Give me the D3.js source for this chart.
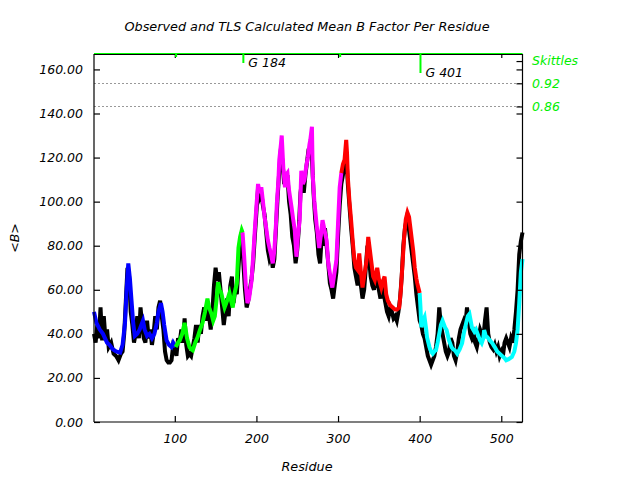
<!DOCTYPE html>
<html><head><meta charset="utf-8">
<script src="https://cdn.jsdelivr.net/npm/d3@7"></script>
<style>
html,body{margin:0;padding:0;background:#fff;}
text{font-family:"DejaVu Sans",sans-serif;font-style:italic;}
</style></head>
<body><svg id="c" width="640" height="480"></svg>
<script>
// ---- data ----
const title = "Observed and TLS Calculated Mean B Factor Per Residue";
const xLabel = "Residue";
const yLabel = "<B>";
const xTicks = [100, 200, 300, 400, 500];
const topTicks = [100, 300, 500];
const yTicks = [0, 20, 40, 60, 80, 100, 120, 140, 160];
const skittleHeader = {label: "Skittles", v: 163.8};
const skittleLevels = [{label: "0.92", v: 153.7}, {label: "0.86", v: 143.2}];
const glyMarks = [{res: 184, label: "G 184", len: 9}, {res: 401, label: "G 401", len: 19}];
const smallMarks = [101, 302];

const groupBounds = [1, 101, 183, 304, 400, 526];
const groupColors = ["#0000ff", "#00ff00", "#ff00ff", "#ff0000", "#00ffff"];

const obsRes = [1,3,5,7,9,11,13,15,17,19,22,25,28,31,34,36,38,40,42,44,46,48,50,52,54,56,58,60,62,64,66,68,70,72,74,76,78,80,82,84,86,88,90,92,94,96,98,100,102,104,106,108,110,112,114,116,118,120,122,124,126,128,130,132,134,136,138,140,142,144,146,148,150,152,154,156,158,160,162,164,166,168,170,172,174,176,178,180,182,184,186,188,190,192,194,196,198,200,202,204,206,208,210,212,214,216,218,220,222,224,226,228,230,232,234,236,238,240,242,244,246,248,250,252,254,256,258,260,262,264,266,268,270,272,274,276,278,280,282,284,286,288,290,292,294,296,298,300,302,304,306,308,310,312,314,316,318,320,322,324,326,328,330,332,334,336,338,340,342,344,346,348,350,352,354,356,358,360,362,364,366,368,370,372,374,376,378,380,382,384,386,388,390,392,394,396,398,400,402,404,406,408,410,412,414,416,418,420,422,424,426,428,430,432,434,436,438,440,442,444,446,448,450,452,454,456,458,460,462,464,466,468,470,472,474,476,478,480,482,484,486,488,490,492,494,496,498,500,502,504,506,508,510,512,514,516,518,520,522,524,526];
const obsVal = [40,36,44,38,52,37,48,38,42,34,36,31,30,28,31,32,40,55,70,66,50,44,36,40,48,38,52,44,38,36,46,38,42,35,40,48,42,52,55,48,42,32,28,27,27,28,35,34,30,38,36,42,36,47,35,30,31,30,34,38,44,36,44,40,48,52,46,52,48,42,50,62,70,64,68,60,52,44,50,56,48,62,66,54,60,58,70,82,86,72,60,52,55,60,65,72,84,95,106,102,104,98,94,86,78,74,76,70,74,88,102,114,124,118,108,110,112,100,94,84,80,72,78,88,104,110,104,112,118,124,122,120,104,92,86,76,72,84,80,88,80,72,63,60,56,62,68,84,98,108,112,116,122,108,98,88,80,70,66,62,72,62,56,60,70,80,74,66,62,60,66,64,60,56,62,58,54,50,48,52,50,47,48,46,50,56,66,80,88,92,90,84,78,72,66,58,52,46,44,40,38,34,30,28,26,28,30,34,40,52,44,40,36,32,30,32,38,36,30,28,32,38,42,44,46,44,52,46,40,38,40,36,34,38,42,40,38,46,52,40,36,34,33,35,32,34,30,32,30,36,38,36,34,38,36,42,50,60,76,82,86];

const tlsRes = [1,4,8,12,17,20,24,28,33,36,39,41,43,45,47,49,51,54,57,59,61,63,66,69,72,75,78,80,83,85,87,90,93,96,98,101,104,106,109,112,115,118,120,122,125,128,131,134,137,140,142,145,147,149,151,153,155,157,159,161,164,167,169,171,173,176,178,180,182,183,185,187,189,191,194,196,198,200,202,204,206,208,210,212,214,216,218,220,222,224,225,227,228,230,231,233,235,236,238,240,243,245,247,249,251,253,255,257,259,261,263,265,266,268,269,271,274,277,279,281,284,286,288,290,293,295,298,300,302,304,306,308,310,311,312,314,316,318,320,322,324,326,328,330,332,335,337,339,341,343,345,347,348,350,353,355,357,359,361,364,367,370,372,375,377,379,381,383,385,387,389,390,392,394,396,397,399,400,401,402,404,406,408,409,412,414,416,418,420,422,424,426,428,431,433,436,439,441,443,446,449,452,454,457,459,461,463,464,467,469,471,474,476,478,479,481,483,486,489,492,495,498,501,504,506,509,513,516,518,520,522,524,526];
const tlsVal = [50,45,42,40,36,35,33,32,31.5,35,45,60,72,65,55,45,39,40,42,44,46,42,39,40,38,40,45,50,54,50,44,37,35,34,36,34,36,37,40,45,38,34,33,32.5,36,38.5,42,45,50,56,52,49,46,48,55,63.5,60,58.5,55,52,55,58.5,55,52,58,63,79,84,87,86,75,62,54,56,64,75,87,98,108,104,106.5,100,93,88,82.5,79,76,72,78,90,99,110,119,126,130,115,106.5,112,113,105,97.5,92,87,75,85,91.6,114,108,110,116,120,126,128,134,112,100,88.5,79,85,91.6,86,82.5,72,67.5,61,66,73.5,90,106.5,113,117,119,128,122,111,100,91.6,82,73.5,70,69,76.5,68,61,66,73.5,84,78,72,66,64.4,68,70,65,61,64,66,58,55,53,52,51,51,52,60,72,84,92,95,93,87,84,78,70,65,63,60,58.5,52,43,46,47.6,42,38.5,34,32,31,32,32.6,36,40,44,46,43,41.7,37,34,33,32.6,31,33,35.8,40,45,48,49,45,43,41,42,40,37,35.8,38,41.7,39,38.5,37,35.8,34,32,31,30,29,28,28.5,29.5,32,35.8,42,54,68,74];

// ---- layout ----
const svg = d3.select("#c");
const L = 94, R = 522.5, T = 54, B = 422;
const x = d3.scaleLinear().domain([1, 526]).range([L, R]);
const y = d3.scaleLinear().domain([0, 167]).range([B, T]);

// dotted skittle levels
svg.selectAll("line.lvl").data(skittleLevels).join("line")
  .attr("x1", L).attr("x2", R)
  .attr("y1", d => Math.round(y(d.v)) + 0.5).attr("y2", d => Math.round(y(d.v)) + 0.5)
  .attr("stroke", "#999").attr("stroke-width", 1).attr("stroke-dasharray", "2,2");

// observed
const line = d3.line().x(d => x(d[0])).y(d => y(d[1]));
const obs = obsRes.map((r, i) => [r, obsVal[i]]);
svg.append("path").attr("d", line(obs)).attr("fill", "none")
  .attr("stroke", "#000").attr("stroke-width", 4).attr("stroke-linejoin", "miter");

// TLS by group
const tls = tlsRes.map((r, i) => [r, tlsVal[i]]);
groupColors.forEach((c, g) => {
  const seg = tls.filter(d => d[0] >= groupBounds[g] && d[0] <= groupBounds[g + 1]);
  svg.append("path").attr("d", line(seg)).attr("fill", "none")
    .attr("stroke", c).attr("stroke-width", 4).attr("stroke-linejoin", "miter");
});

// frame
const fr = svg.append("g").attr("stroke", "#000").attr("stroke-width", 1.2).attr("fill", "none");
fr.append("line").attr("x1", L).attr("x2", L).attr("y1", T).attr("y2", B);
fr.append("line").attr("x1", R).attr("x2", R).attr("y1", T).attr("y2", B);
fr.append("line").attr("x1", L).attr("x2", R).attr("y1", B).attr("y2", B);
fr.append("line").attr("x1", L).attr("x2", R).attr("y1", T + 0.5).attr("y2", T + 0.5);
svg.append("line").attr("x1", L).attr("x2", R).attr("y1", T - 0.5).attr("y2", T - 0.5)
  .attr("stroke", "#00ff00").attr("stroke-width", 1);

// axes
const fmt = d3.format(".2f");
const yl = svg.append("g").attr("transform", `translate(${L},0)`)
  .call(d3.axisLeft(y).tickValues(yTicks).tickFormat(fmt).tickSizeInner(-6).tickSizeOuter(0).tickPadding(11));
const xb = svg.append("g").attr("transform", `translate(0,${B})`)
  .call(d3.axisBottom(x).tickValues(xTicks).tickFormat(d3.format("d")).tickSizeInner(-6).tickSizeOuter(0).tickPadding(12));
const xt = svg.append("g").attr("transform", `translate(0,${T})`)
  .call(d3.axisTop(x).tickValues(topTicks).tickFormat("").tickSizeInner(-4).tickSizeOuter(0));
const yr = svg.append("g").attr("transform", `translate(${R},0)`)
  .call(d3.axisRight(y).tickValues(yTicks.concat([skittleHeader.v], skittleLevels.map(d => d.v))).tickFormat("").tickSizeInner(-6).tickSizeOuter(0));
[yl, xb, xt, yr].forEach(g => {
  g.select(".domain").remove();
  g.selectAll("line").attr("stroke", "#000").attr("stroke-width", 1.2);
  g.selectAll("text").attr("font-size", 12.5).attr("fill", "#000")
    .attr("font-family", "DejaVu Sans").attr("font-style", "italic");
});

// small green marks at top
svg.selectAll("rect.sm").data(smallMarks).join("rect")
  .attr("x", d => x(d) - 0.5).attr("y", T).attr("width", 2).attr("height", 3).attr("fill", "#00ff00");

// glycine marks
glyMarks.forEach(m => {
  svg.append("line").attr("x1", x(m.res)).attr("x2", x(m.res)).attr("y1", T).attr("y2", T + m.len)
    .attr("stroke", "#00ff00").attr("stroke-width", 2);
  svg.append("text").attr("x", x(m.res) + 5).attr("y", T + m.len + 3.5)
    .attr("font-size", 12.5).attr("fill", "#000").text(m.label);
});

// skittles labels
svg.append("text").attr("x", 532).attr("y", y(skittleHeader.v)).attr("dy", "0.35em")
  .attr("font-size", 12.5).attr("fill", "#00ee00").text(skittleHeader.label);
svg.selectAll("text.sk").data(skittleLevels).join("text")
  .attr("x", 532).attr("y", d => y(d.v)).attr("dy", "0.35em")
  .attr("font-size", 12.5).attr("fill", "#00ee00").text(d => d.label);

// titles
svg.append("text").attr("x", 307).attr("y", 31).attr("text-anchor", "middle")
  .attr("font-size", 12.8).attr("fill", "#000").text(title);
svg.append("text").attr("x", 307).attr("y", 471).attr("text-anchor", "middle")
  .attr("font-size", 12.8).attr("fill", "#000").text(xLabel);
svg.append("text").attr("transform", "translate(19,238) rotate(-90)").attr("text-anchor", "middle")
  .attr("font-size", 12.5).attr("fill", "#000").text(yLabel);
</script></body></html>
